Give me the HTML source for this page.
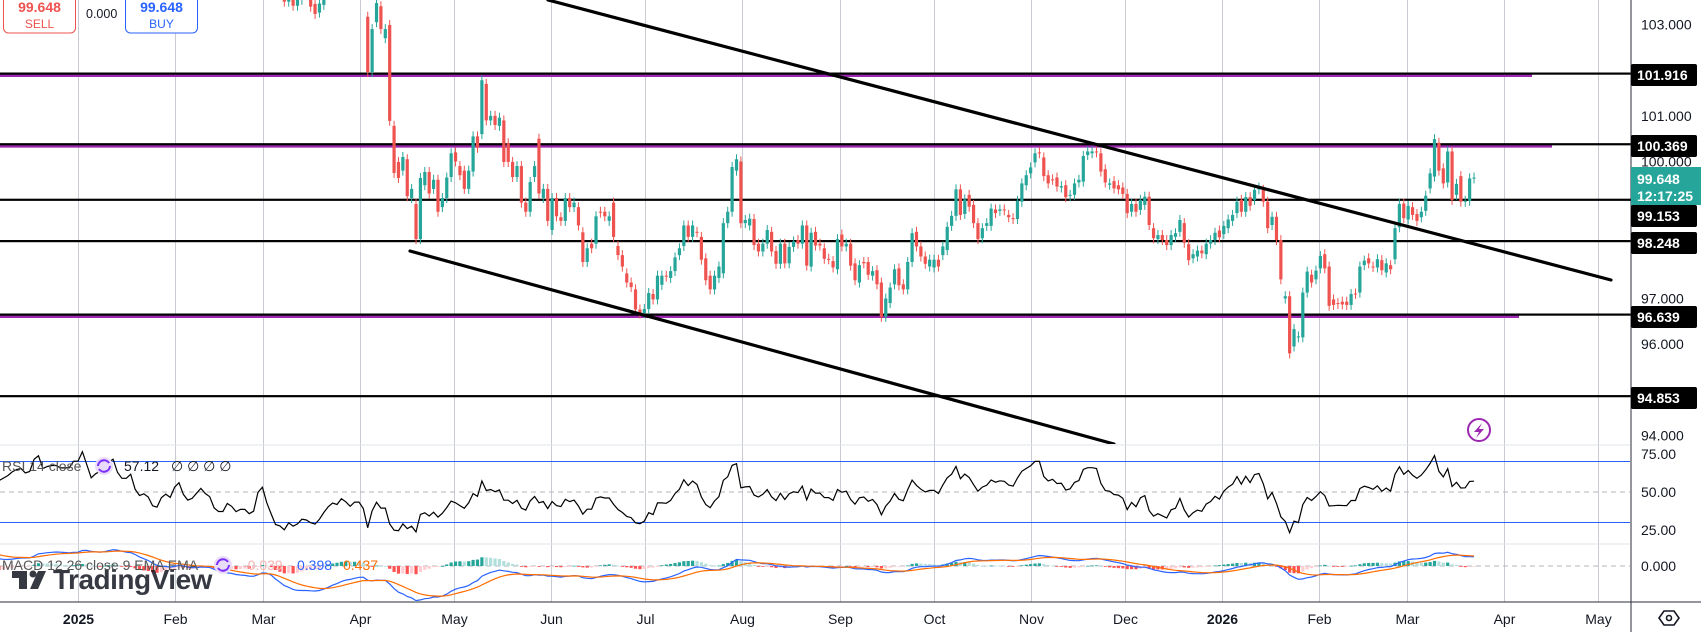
<!DOCTYPE html>
<html><head><meta charset="utf-8">
<style>
html,body{margin:0;padding:0;background:#fff;}
svg{display:block;font-family:"Liberation Sans",sans-serif;}
</style></head>
<body>
<svg id="chart" width="1701" height="632" viewBox="0 0 1701 632" xmlns="http://www.w3.org/2000/svg">
<defs>
<clipPath id="cMain"><rect x="0" y="0" width="1630" height="444"/></clipPath>
<clipPath id="cRsi"><rect x="0" y="446" width="1630" height="97"/></clipPath>
<clipPath id="cMacd"><rect x="0" y="545" width="1630" height="56"/></clipPath>
</defs>
<g id="grid"></g>
<g id="hlines"></g>
<g id="candles" clip-path="url(#cMain)"></g>
<g id="trend" clip-path="url(#cMain)"></g>
<line x1="0" y1="445" x2="1630" y2="445" stroke="#e0e3eb"/>
<line x1="0" y1="544" x2="1630" y2="544" stroke="#e0e3eb"/>
<g id="rsi" clip-path="url(#cRsi)"></g>
<g id="macd" clip-path="url(#cMacd)"></g>
<line x1="0" y1="602" x2="1701" y2="602" stroke="#2a2e39" stroke-width="1"/>
<line x1="1631" y1="0" x2="1631" y2="632" stroke="#2a2e39" stroke-width="1"/>
<g id="axis"></g>
<g id="taxis"></g>

<g>
<rect x="3.5" y="-6" width="72" height="39" rx="5" fill="#fff" stroke="#ef5350"/>
<text x="39.5" y="12" text-anchor="middle" font-size="14" font-weight="bold" fill="#ef5350">99.648</text>
<text x="39.5" y="28" text-anchor="middle" font-size="12" fill="#ef5350">SELL</text>
</g>
<text x="86" y="18" font-size="12.5" fill="#131722">0.000</text>
<g>
<rect x="125.5" y="-6" width="72" height="39" rx="5" fill="#fff" stroke="#2962ff"/>
<text x="161.5" y="12" text-anchor="middle" font-size="14" font-weight="bold" fill="#2962ff">99.648</text>
<text x="161.5" y="28" text-anchor="middle" font-size="12" fill="#2962ff">BUY</text>
</g>

<g>
<circle cx="1479" cy="430" r="11" fill="#fff" stroke="#9c27b0" stroke-width="2"/>
<path d="M1482 423 L1474 432 L1479 432 L1476 438 L1484 429 L1479 429 Z" fill="#9c27b0"/>
</g>

<g>
<text x="2" y="471" font-size="14" fill="#555">RSI 14 close</text>
<circle cx="104" cy="466" r="9" fill="#e9dcfb"/>
<path d="M98 466 a6 6 0 0 1 11 -3 M110 466 a6 6 0 0 1 -11 3" stroke="#7b2ff7" stroke-width="2" fill="none"/>
<text x="124" y="471" font-size="14" fill="#131722">57.12</text>
<text x="171" y="471" font-size="14" fill="#131722">∅  ∅  ∅  ∅</text>
</g>
<g opacity="0.85">
<rect x="12" y="571" width="15" height="7" fill="#131722"/>
<rect x="19" y="571" width="8" height="18" fill="#131722"/>
<circle cx="33" cy="574" r="3.5" fill="#131722"/>
<path d="M38 571 L46 571 L38 589 L30 589 Z" fill="#131722"/>
<text x="53" y="589" font-size="28" font-weight="bold" fill="#131722" letter-spacing="-0.5">TradingView</text>
</g>
<g>
<text x="2" y="570" font-size="14" fill="#555">MACD 12 26 close 9 EMA EMA</text>
<circle cx="223" cy="565" r="9" fill="#e9dcfb"/>
<path d="M217 565 a6 6 0 0 1 11 -3 M229 565 a6 6 0 0 1 -11 3" stroke="#7b2ff7" stroke-width="2" fill="none"/>
<text x="243" y="570" font-size="14" fill="#f8b4b4">-0.039</text>
<text x="297" y="570" font-size="14" fill="#2962ff">0.398</text>
<text x="343" y="570" font-size="14" fill="#ff6d00">0.437</text>
</g>
<g>
<path d="M1659 618 L1664 611 L1674 611 L1679 618 L1674 625 L1664 625 Z" fill="none" stroke="#131722" stroke-width="1.6"/>
<circle cx="1669" cy="618" r="2.5" fill="none" stroke="#131722" stroke-width="1.6"/>
</g>
</svg>
<script>
// ---- data ----
const historyCloses = [
103.9,104.3,105.1,104.4,105.0,105.5,106.0,106.5,106.7,106.7,106.6,106.3,106.7,107.0,107.5,107.0,106.9,106.8,106.1,105.7,
106.4,106.4,106.3,105.7,106.0,106.2,106.4,106.7,106.9,107.0,106.8,106.9,108.0,108.4,107.8,108.0,108.1,108.1,108.0,108.0,108.0,108.5,
108.5,109.4,108.9,108.3,108.6,108.8,109.2,109.6,109.9,109.3,109.0,109.0,109.3,108.5,108.1,108.2,108.0,107.4,107.3,107.8,108.0,107.8,108.4,
108.7,108.0,107.6,107.7,108.0,108.3,108.0,107.8,107.0,106.7,106.7,107.1,106.9,106.5,106.6,106.6,106.3,106.4,107.3,107.6];
const marOpens  = [107.6,106.6,105.6,104.3,103.6,103.5,103.54,103.41,103.54,103.8,103.54,103.45,103.26,103.43,103.8,104.1,104.3,104.2,104.5,104.3,104.0,104.2,104.2];
const marCloses = [106.6,105.6,104.3,104.1,103.5,103.9,103.41,103.54,103.8,103.7,103.39,103.23,103.46,103.8,104.1,104.3,104.2,104.5,104.3,104.0,104.2,104.2,103.8];
const opens = [
103.17,101.96,103.05,103.4,102.7,102.99,100.78,99.99,99.8,100.05,99.2,99.07,98.3,99.48,99.77,99.4,99.6,99.0,99.2,99.66,
100.2,99.9,99.8,99.4,99.78,100.55,100.6,101.7,100.9,101.0,100.78,100.9,100.4,99.99,99.66,99.9,99.1,98.9,99.66,100.5,
99.2,99.4,98.5,99.2,98.78,98.7,99.2,99.0,99.0,98.45,97.8,98.2,98.2,98.9,98.9,98.7,99.1,98.15,97.95,97.55,
97.35,97.2,96.76,96.68,96.77,97.1,96.98,97.3,97.5,97.45,97.6,97.95,98.15,98.6,98.35,98.46,98.35,97.88,97.5,97.2,
97.45,97.55,98.65,98.9,99.8,100.0,98.65,98.6,98.74,98.2,98.03,98.2,98.46,98.04,97.76,98.2,97.77,98.13,98.28,98.2,
98.6,97.7,98.46,98.2,98.1,97.87,97.82,97.64,98.4,98.14,98.2,97.77,97.35,97.8,97.8,97.5,97.62,97.35,96.6,96.9,
97.31,97.66,97.31,97.2,97.8,98.46,98.14,97.92,97.7,97.68,97.85,97.95,98.06,98.59,98.81,99.39,98.85,99.27,99.05,98.65,
98.32,98.59,98.59,98.95,98.92,98.95,98.83,98.76,98.74,99.12,99.48,99.74,99.98,100.2,100.09,99.7,99.61,99.65,99.43,99.48,
99.25,99.27,99.54,99.56,100.14,100.18,100.22,100.18,99.83,99.49,99.57,99.48,99.43,99.29,98.9,99.07,98.94,99.05,99.23,98.54,
98.3,98.39,98.28,98.17,98.35,98.46,98.65,98.19,97.88,97.92,98.05,97.97,98.2,98.28,98.49,98.41,98.54,98.7,98.87,99.16,
98.9,99.22,99.16,99.39,99.38,99.12,98.61,98.79,98.28,97.0,97.05,95.95,96.15,96.15,97.13,97.52,97.42,97.66,97.97,97.7,
96.98,96.9,96.93,96.93,96.86,97.11,97.13,97.73,97.88,97.7,97.68,97.84,97.57,97.73,97.86,98.56,99.08,98.73,99.0,98.85,
98.78,98.92,99.41,99.67,100.41,99.85,99.54,100.22,99.27,99.68,99.12,99.14,99.63];
const closes = [
101.96,102.9,103.47,102.9,102.9,100.89,99.75,99.64,100.1,99.24,99.4,98.3,99.64,99.77,99.3,99.6,98.9,99.2,99.65,100.18,
100.0,99.7,99.4,99.8,100.55,100.3,101.78,100.9,101.0,100.8,100.96,99.99,99.99,99.66,99.9,99.1,98.9,99.55,99.9,99.3,
99.4,98.7,99.2,98.8,98.7,99.2,99.0,99.1,98.6,97.8,98.1,98.1,98.8,98.88,98.8,98.8,98.35,97.95,97.7,97.35,
97.25,96.76,96.67,96.77,97.12,96.98,97.5,97.5,97.48,97.6,97.9,98.1,98.6,98.35,98.6,98.45,97.85,97.4,97.2,97.5,
97.7,98.65,98.9,99.88,100.05,98.65,98.72,98.75,98.17,98.03,98.2,98.5,98.03,97.76,98.2,97.77,98.13,98.25,98.2,98.6,
97.72,98.44,98.16,98.16,97.87,97.86,97.68,98.3,98.14,98.2,97.72,97.4,97.73,97.77,97.52,97.6,97.31,96.6,97.0,97.24,
97.64,97.29,97.2,97.8,98.43,98.14,97.92,97.76,97.85,97.85,97.7,98.14,98.57,98.81,99.39,98.83,99.17,99.01,98.65,98.3,
98.54,98.65,98.97,98.87,98.95,98.93,98.78,98.74,99.14,99.52,99.7,99.87,100.18,100.18,99.68,99.52,99.6,99.45,99.46,99.22,
99.27,99.52,99.6,100.12,100.22,100.22,100.2,99.78,99.54,99.52,99.41,99.39,99.29,98.87,99.07,98.9,99.16,99.23,98.61,98.32,
98.39,98.28,98.17,98.39,98.43,98.72,98.22,97.84,97.97,98.05,97.99,98.2,98.28,98.44,98.34,98.59,98.73,98.83,99.12,98.9,
99.22,99.03,99.38,99.43,99.12,98.54,98.79,98.28,97.42,97.05,95.8,96.33,96.17,97.13,97.59,97.35,97.61,97.93,97.66,96.84,
96.86,96.88,96.87,96.86,97.1,97.1,97.7,97.83,97.77,97.69,97.86,97.62,97.77,97.64,98.54,99.07,98.76,99.03,98.83,98.7,
98.9,99.25,99.74,100.49,99.8,99.52,100.22,99.16,99.51,99.12,99.14,99.63,99.648];
const levels = [101.916, 100.369, 99.153, 98.248, 96.639, 94.853];
const purpleLevels = [101.916, 100.369, 96.639];
const priceTicks = ["103.000","101.000","100.000","97.000","96.000","94.000"];
const rsiTicks = ["75.00","50.00","25.00"];
const monthLabels = ["2025","Feb","Mar","Apr","May","Jun","Jul","Aug","Sep","Oct","Nov","Dec","2026","Feb","Mar","Apr","May"];
const monthDates = ["2025-01-01","2025-02-01","2025-03-01","2025-04-01","2025-05-01","2025-06-01","2025-07-01","2025-08-01","2025-09-01","2025-10-01","2025-11-01","2025-12-01","2026-01-01","2026-02-01","2026-03-01","2026-04-01","2026-05-01"];
const lastPrice = "99.648";
const countdown = "12:17:25";

const NS = "http://www.w3.org/2000/svg";
const yP = p => 74 + (101.916 - p) * 45.67;
const yR = v => 492 - (v - 50) * 1.525;
const yM = v => 566 - v * 23;
const xI = i => 78 + (i - 42) * 4.39;
const xD = s => 78 + (Date.parse(s) - Date.parse("2025-01-01")) / 86400000 * 3.134;
function el(tag, attrs, parent){const e=document.createElementNS(NS,tag);for(const k in attrs)e.setAttribute(k,attrs[k]);parent.appendChild(e);return e;}

const allO = [], allC = [];
historyCloses.forEach((c,i)=>{allO.push(i?historyCloses[i-1]:c);allC.push(c);});
marOpens.forEach((o,i)=>{allO.push(o);allC.push(marCloses[i]);});
opens.forEach((o,i)=>{allO.push(o);allC.push(closes[i]);});
const N = allC.length;

const grid = document.getElementById('grid'), taxis = document.getElementById('taxis');
monthLabels.forEach((lab,i)=>{
  const x = Math.round(xD(monthDates[i])) + 0.5;
  const g = el('line',{x1:x,y1:0,x2:x,y2:602,stroke:'#c9cbd2','stroke-width':1},grid);
  
  
  const t = el('text',{x:x,y:624,'text-anchor':'middle','font-size':14,fill:'#131722','font-weight':(lab.length===4?'bold':'normal')},taxis);
  t.textContent = lab;
  
  
});

const hl = document.getElementById('hlines');
const purpleEnds = {"101.916":1532,"100.369":1552,"96.639":1519};
purpleLevels.forEach(p=>{
  const y = yP(p);
  const l = el('rect',{x:0,y:y-0.5,width:purpleEnds[String(p)],height:3.5,fill:'#9c27b0'},hl);
  
  
});
levels.forEach(p=>{
  const y = yP(p);
  const l = el('rect',{x:0,y:y-1.5,width:1631,height:2.2,fill:'#000'},hl);
  
  
});

const cg = document.getElementById('candles');
for(let i=0;i<N;i++){
  const x = xI(i); if(x<-5||x>1630) continue;
  const o=allO[i], c=allC[i], up=c>=o, col=up?'#26a69a':'#ef5350';
  const top=yP(Math.max(o,c)), bot=yP(Math.min(o,c));
  const w = el('line',{x1:x,y1:top-5,x2:x,y2:bot+5,stroke:col,'stroke-width':1},cg);
  
  
  const b = el('rect',{x:x-1.6,y:top,width:3.2,height:Math.max(1,bot-top),fill:col},cg);
  
  
}

const tg = document.getElementById('trend');
const t1 = el('line',{x1:548,y1:0,x2:1611,y2:280,stroke:'#000','stroke-width':3.2,'stroke-linecap':'round'},tg);


const t2 = el('line',{x1:410,y1:251,x2:1114,y2:444,stroke:'#000','stroke-width':3.2,'stroke-linecap':'round'},tg);



const rg = document.getElementById('rsi');
[70,30].forEach(v=>{const l=el('line',{x1:0,y1:yR(v),x2:1631,y2:yR(v),stroke:'#2962ff','stroke-width':1},rg);
  
  });
const mid = el('line',{x1:0,y1:yR(50),x2:1631,y2:yR(50),stroke:'#b2b5be','stroke-dasharray':'5 4'},rg);


let ag=0, al=0; const rsi=[];
for(let i=1;i<N;i++){
  const d=allC[i]-allC[i-1], g=Math.max(d,0), l=Math.max(-d,0);
  if(i<=14){ag+=g/14; al+=l/14; rsi[i]=null; continue;}
  ag=(ag*13+g)/14; al=(al*13+l)/14; rsi[i]=al===0?100:100-100/(1+ag/al);
}
let rp='';
for(let i=15;i<N;i++){const x=xI(i); if(x<-10)continue; rp+=(rp?'L':'M')+x.toFixed(1)+' '+yR(rsi[i]).toFixed(1);}
const rl = el('path',{d:rp,fill:'none',stroke:'#000','stroke-width':1.2},rg);



const mg = document.getElementById('macd');
const z = el('line',{x1:0,y1:yM(0),x2:1631,y2:yM(0),stroke:'#b2b5be','stroke-dasharray':'5 4'},mg);


const ema=(arr,n)=>{const k=2/(n+1);const out=[];arr.forEach((v,i)=>out.push(i?out[i-1]+k*(v-out[i-1]):v));return out;};
const e12=ema(allC,12), e26=ema(allC,26);
const macd=e12.map((v,i)=>v-e26[i]); const sig=ema(macd,9);
for(let i=1;i<N;i++){
  const x=xI(i); if(x<-5) continue;
  const h=macd[i]-sig[i], hp=macd[i-1]-sig[i-1];
  const col = h>=0 ? (h>=hp?'#26a69a':'#b2dfdb') : (h<hp?'#ff5252':'#ffcdd2');
  const y0=yM(0), y1=yM(h);
  const b=el('rect',{x:x-1.6,y:Math.min(y0,y1),width:3.2,height:Math.max(0.8,Math.abs(y1-y0)),fill:col},mg);
  
  
}
let mp='', sp='';
for(let i=0;i<N;i++){const x=xI(i); if(x<-10)continue;
  mp+=(mp?'L':'M')+x.toFixed(1)+' '+yM(macd[i]).toFixed(1);
  sp+=(sp?'L':'M')+x.toFixed(1)+' '+yM(sig[i]).toFixed(1);}
const ml=el('path',{d:mp,fill:'none',stroke:'#2962ff','stroke-width':1.2},mg);


const sl=el('path',{d:sp,fill:'none',stroke:'#ff6d00','stroke-width':1.2},mg);



const ax = document.getElementById('axis');
priceTicks.forEach(s=>{
  const t=el('text',{x:1641,y:yP(parseFloat(s))+5,'font-size':14,fill:'#131722'},ax);
  t.textContent=s;
  
  
});
rsiTicks.forEach(s=>{
  const t=el('text',{x:1641,y:yR(parseFloat(s))+5,'font-size':14,fill:'#131722'},ax);
  t.textContent=s;
  
  
});
const mz=el('text',{x:1641,y:yM(0)+5,'font-size':14,fill:'#131722'},ax);
mz.textContent='0.000';


const boxCenters = {"101.916":75,"100.369":146,"99.153":216,"98.248":243,"96.639":317,"94.853":398};
levels.forEach(p=>{
  const cy=boxCenters[p.toFixed(3)];
  const g=el('g',{},ax);
  
  
  el('rect',{x:1631,y:cy-11,width:66,height:22,rx:2,fill:'#000'},g);
  const t=el('text',{x:1637,y:cy+5,'font-size':14,'font-weight':'bold',fill:'#fff'},g);
  t.textContent=p.toFixed(3);
});
const lg=el('g',{},ax);


el('rect',{x:1631,y:167,width:70,height:38,fill:'#26a69a'},lg);
const lt=el('text',{x:1637,y:184,'font-size':14,'font-weight':'bold',fill:'#fff'},lg); lt.textContent=lastPrice;
const ct=el('text',{x:1637,y:201,'font-size':14,'font-weight':'bold',fill:'#fff'},lg); ct.textContent=countdown;
</script>
</body></html>
